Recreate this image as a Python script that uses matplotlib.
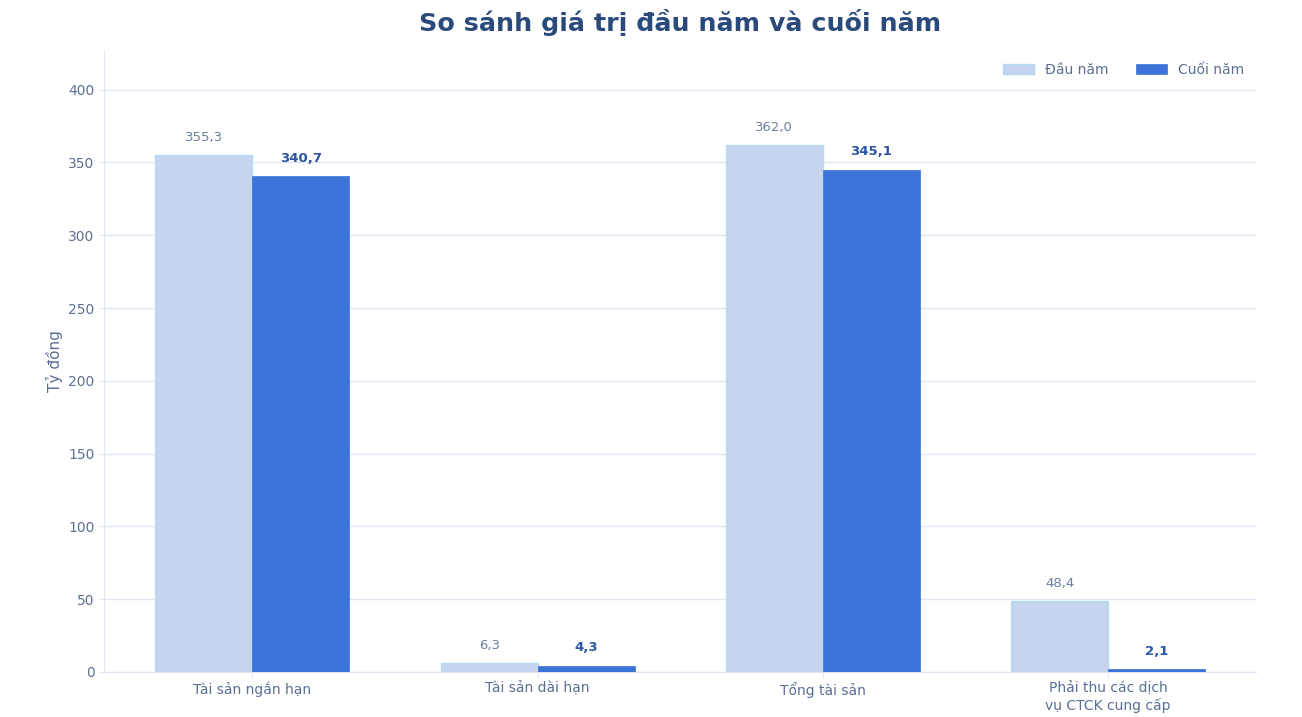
import matplotlib

matplotlib.use("Agg")
import matplotlib.pyplot as plt
import numpy as np

categories = ["Tài sản ngắn hạn", "Tài sản dài hạn", "Tổng tài sản", "Phải thu các dịch\nvụ CTCK cung cấp"]
dau_nam = [355.3, 6.3, 362.0, 48.4]
cuoi_nam = [340.7, 4.3, 345.1, 2.1]

LIGHT = "#c7d4ee"
DARK = "#3b73d9"
TEXT = "#5b6f93"
GRID = "#dfe6f2"

plt.rcParams["font.family"] = ["DejaVu Sans"]

fig, ax = plt.subplots(figsize=(13.02, 7.17), dpi=100)
fig.subplots_adjust(left=0.08, right=0.965, top=0.93, bottom=0.063)

x = np.arange(len(categories))
width = 0.34
b1 = ax.bar(x - width / 2, dau_nam, width, color=LIGHT, edgecolor="#b5dcf2", linewidth=1.0, label="Đầu năm", zorder=3)
b2 = ax.bar(x + width / 2, cuoi_nam, width, color=DARK, edgecolor=DARK, linewidth=0.5, label="Cuối năm", zorder=3)

for rect, v in zip(b1, dau_nam):
    ax.annotate(f"{v:.1f}".replace(".", ","), (rect.get_x() + rect.get_width() / 2, v),
                xytext=(0, 8), textcoords="offset points", ha="center", va="bottom",
                fontsize=9.5, color="#6d7f9c")
for rect, v in zip(b2, cuoi_nam):
    ax.annotate(f"{v:.1f}".replace(".", ","), (rect.get_x() + rect.get_width() / 2, v),
                xytext=(0, 8), textcoords="offset points", ha="center", va="bottom",
                fontsize=9.5, color="#2a55a8", fontweight="bold")

ax.set_xlim(-0.52, 3.52)
ax.set_ylim(0, max(dau_nam) * 1.18)
ax.set_yticks(np.arange(0, 401, 50))
ax.set_xticks(x)
ax.set_xticklabels(categories)
ax.tick_params(axis="both", colors=GRID, labelcolor=TEXT, labelsize=10)
ax.set_ylabel("Tỷ đồng", color=TEXT, fontsize=11)
ax.set_title("So sánh giá trị đầu năm và cuối năm", fontsize=18.3, fontweight="bold", color="#2b4a7c", pad=14)

ax.grid(axis="y", color=GRID, linewidth=1, zorder=0)
ax.set_axisbelow(True)
for side in ["top", "right"]:
    ax.spines[side].set_visible(False)
for side in ["left", "bottom"]:
    ax.spines[side].set_color(GRID)

ax.legend(loc="upper right", frameon=False, fontsize=10, labelcolor=TEXT, ncol=2,
          handlelength=2.2, handleheight=0.7, columnspacing=2.0)

fig.savefig("out.png", dpi=100, facecolor="white")
